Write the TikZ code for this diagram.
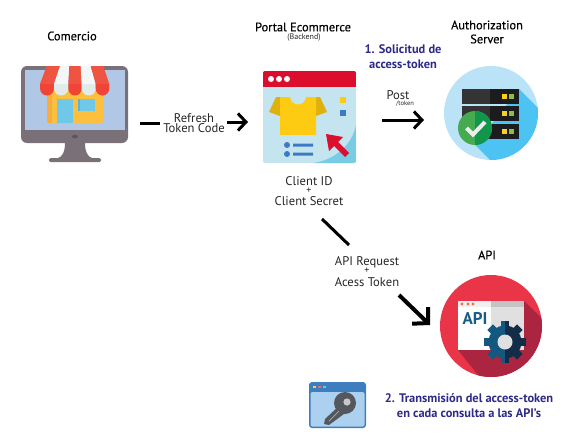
\documentclass[tikz,border=0pt]{standalone}
\usepackage{fontspec}
\setmainfont{PT Sans}
\newfontface\medfont[FakeBold=0.35]{PT Sans}
\usetikzlibrary{arrows.meta}
\definecolor{navy}{HTML}{2E2A87}
\definecolor{redA}{RGB}{239,84,67}
\definecolor{redB}{RGB}{240,68,54}
\definecolor{whtA}{RGB}{243,247,247}
\definecolor{whtB}{RGB}{226,235,235}
\definecolor{gearL}{RGB}{20,88,127}
\definecolor{gearR}{RGB}{19,44,71}
\tikzset{
  lbl/.style={inner sep=0pt,font=\fontsize{12.6}{12.6}\selectfont,text=black!85},
  ttl/.style={inner sep=0pt,font=\fontsize{12.4}{12.4}\selectfont\medfont,text=black},
  note/.style={inner sep=0pt,font=\fontsize{12.4}{12.4}\selectfont\bfseries,text=navy},
  tiny/.style={inner sep=0pt,text=black!85},
  link/.style={line width=3pt,black},
  linkend/.style={line width=3pt,black,-{Straight Barb[length=8pt,width=17pt,line width=3pt]}},
}
\begin{document}
\begin{tikzpicture}[x=1pt,y=-1pt]
\useasboundingbox (0,0) rectangle (570,439);
% ---- Comercio icon
\fill[fill={rgb,255:red,122;green,112;blue,120},rounded corners=6pt] (21,66) rectangle (128,143);
\fill[fill={rgb,255:red,176;green,199;blue,230}] (25,70) rectangle (125,130);
\fill[fill={rgb,255:red,122;green,112;blue,120}] (65,143) .. controls (65,152) and (62,157) .. (58,158) -- (92,158) .. controls (88,157) and (85,152) .. (85,143) -- cycle;
\fill[fill={rgb,255:red,122;green,112;blue,120},rounded corners=1.5pt] (49,158) rectangle (101,162);
\fill[fill={rgb,255:red,92;green,84;blue,92}] (75,136.5) ellipse [x radius=3pt,y radius=1.8pt];
\fill[fill={rgb,255:red,253;green,191;blue,62},rounded corners=2pt] (47,90) rectangle (103,123);
\fill[fill={rgb,255:red,248;green,172;blue,62},rounded corners=2pt] (47,90) rectangle (52,123);
\fill[fill={rgb,255:red,112;green,200;blue,232}] (57,99) rectangle (73,123);
\fill[fill={rgb,255:red,112;green,200;blue,232}] (78,99) rectangle (95,111);
\fill[fill={rgb,255:red,90;green,180;blue,215}] (78,99) rectangle (80,111);
\foreach \ta/\tb/\ba/\bb/\ca/\cb in {
  46.7/60/40/54/redA/redB,
  60/69.3/54/68.3/whtA/whtB,
  69.3/80.7/68.3/81.7/redA/redB,
  80.7/90.7/81.7/95.7/whtA/whtB,
  90.7/103.3/95.7/109.3/redA/redB}{
  \fill[\ca] (\ta,66) -- (\tb,66) -- (\bb,84) -- (\ba,84) -- cycle;
  \fill[\cb] (\ba,84) -- (\bb,84) -- (\bb,88) .. controls (\bb,98) and (\ba,98) .. (\ba,88) -- cycle;
}
% ---- Portal icon
\fill[fill={rgb,255:red,196;green,229;blue,239},rounded corners=2pt] (263,71) rectangle (356,163);
\begin{scope}
\clip[rounded corners=2pt] (263,71) rectangle (356,163);
\fill[fill={rgb,255:red,120;green,204;blue,227}] (356,125) .. controls (352,145) and (335,160) .. (313,163) -- (356,163) -- cycle;
\fill[fill={rgb,255:red,220;green,13;blue,45}] (263,71) rectangle (356,87);
\end{scope}
\foreach \dx in {271,279,287} \fill[white] (\dx,79) circle[radius=3pt];
\fill[fill={rgb,255:red,224;green,176;blue,14}] (280,97) -- (276,97) -- (269,112) -- (280,116) -- cycle;
\fill[fill={rgb,255:red,224;green,176;blue,14}] (316,97) -- (320,97) -- (327,112) -- (316,116) -- cycle;
\fill[fill={rgb,255:red,253;green,203;blue,18}] (280,97) -- (290,97) .. controls (291,107) and (305,107) .. (306,97) -- (316,97) -- (316,135) -- (280,135) -- cycle;
\fill[fill={rgb,255:red,253;green,203;blue,18}] (340,97) rectangle (346,103);
\fill[fill={rgb,255:red,62;green,122;blue,196}] (340,110) rectangle (346,116);
\fill[fill={rgb,255:red,62;green,122;blue,196}] (287,145) circle[radius=3pt] (287,154) circle[radius=3pt];
\fill[fill={rgb,255:red,62;green,122;blue,196}] (293,143.5) rectangle (313,146.5) (293,152.5) rectangle (313,155.5);
\fill[fill={rgb,255:red,220;green,13;blue,45}] (326,134) -- (343,137) -- (338,142) -- (349,153) -- (345,157) -- (334,146) -- (329,151) -- cycle;
% ---- Authorization server icon
\fill[fill={rgb,255:red,186;green,227;blue,247}] (491,113) circle[radius=47pt];
\begin{scope}
\clip (491,113) circle[radius=47pt];
\fill[fill={rgb,255:red,76;green,195;blue,243}] (519,89) -- (560,130) -- (520,180) -- (490,160) -- (475,145) -- cycle;
\end{scope}
\foreach \ry in {89,106,124}{
  \fill[fill={rgb,255:red,28;green,28;blue,30}] (462,\ry) rectangle (519,\ry+14.5);
  \fill[fill={rgb,255:red,52;green,52;blue,54}] (462,\ry) rectangle (490,\ry+14.5);
  \fill[fill={rgb,255:red,250;green,210;blue,30}] (501.5,\ry+4.5) rectangle (506.5,\ry+9.5);
  \fill[fill={rgb,255:red,140;green,190;blue,70}] (509,\ry+4.5) rectangle (514,\ry+9.5);
}
\fill[fill={rgb,255:red,69;green,170;blue,80}] (475,128) circle[radius=17pt];
\begin{scope}
\clip (475,111) rectangle (492,145);
\fill[fill={rgb,255:red,18;green,150;blue,75}] (475,128) circle[radius=17pt];
\end{scope}
\draw[white!93!black,line width=4pt] (466.5,128) -- (473,134.5) -- (485,122);
% ---- API icon
\fill[fill={rgb,255:red,233;green,53;blue,71}] (491,326) circle[radius=51pt];
\begin{scope}
\clip (491,326) circle[radius=51pt];
\fill[fill={rgb,255:red,172;green,37;blue,64}] (524,301) -- (570,345) -- (530,400) -- (490,390) -- (458,350) -- cycle;
\end{scope}
\fill[white] (458,301) rectangle (491,350);
\fill[fill={rgb,255:red,224;green,224;blue,224}] (491,301) rectangle (524,350);
\fill[fill={rgb,255:red,240;green,240;blue,240}] (458,301) rectangle (491,307);
\fill[fill={rgb,255:red,196;green,196;blue,196}] (491,301) rectangle (524,307);
\foreach \dx in {462,468,473} \fill[fill={rgb,255:red,240;green,110;blue,70}] (\dx,304) circle[radius=1.6pt];
\node[inner sep=0pt,font=\fontsize{17}{17}\selectfont\bfseries,text={rgb,255:red,24;green,92;blue,136}] (apitxt) at (475,318) {API};
\foreach \gclr/\gx in {gearL/480,gearR/505}{
\begin{scope}
\clip (\gx,315) rectangle (\gx+25,370);
\fill[\gclr] (505,342) circle[radius=16.5pt];
\foreach \ang in {0,45,...,315}
  \fill[\gclr,rotate around={\ang:(505,342)}] (501,321) rectangle (509,330);
\end{scope}}
\fill[fill={rgb,255:red,224;green,224;blue,224}] (505,342) circle[radius=7.5pt];
% ---- Key icon
\fill[fill={rgb,255:red,62;green,125;blue,190},rounded corners=3pt] (309,382) rectangle (366,428);
\fill[fill={rgb,255:red,172;green,209;blue,240},rounded corners=2pt] (310.5,392) rectangle (364.5,426.5);
\fill[fill={rgb,255:red,240;green,210;blue,90}] (313,386) rectangle (316,387.5);
\fill[fill={rgb,255:red,230;green,110;blue,130}] (318,386) rectangle (321,387.5);
\fill[fill={rgb,255:red,100;green,205;blue,210}] (323,386) rectangle (326,387.5);
\fill[fill={rgb,255:red,84;green,88;blue,94}] (345,403) circle[radius=11pt];
\fill[fill={rgb,255:red,84;green,88;blue,94}] (340,405) -- (348,411) -- (329,425) -- (324,424) -- (325,419) -- cycle;
\fill[fill={rgb,255:red,200;green,200;blue,200}] (347,402) circle[radius=3.6pt];
\draw[draw={rgb,255:red,170;green,170;blue,170},line width=.7pt] (339,411) -- (329,421);
% ---- Labels
\node[ttl] (comercio) at (72,36) {Comercio};
\node[ttl] (portal) at (303,27) {Portal Ecommerce};
\node[tiny,font=\fontsize{8}{8}\selectfont] (backend) at (304,38) {(Backend)};
\node[ttl] (auth1) at (487,25) {Authorization};
\node[ttl] (auth2) at (487,39) {Server};
\node[note] (sol1) at (403,49) {1. Solicitud de};
\node[note] (sol2) at (403,64) {access-token};
\node[lbl] (refresh) at (194,118) {Refresh};
\node[lbl] (tokencode) at (194,128) {Token Code};
\node[lbl] (post) at (398,95) {Post};
\node[tiny,font=\fontsize{6.5}{6.5}\selectfont] (tokenpath) at (405,104) {/token};
\node[lbl] (cid) at (309,181) {Client ID};
\node[tiny,font=\fontsize{10}{10}\selectfont] (plusa) at (309,191) {+};
\node[lbl] (csecret) at (309,201) {Client Secret};
\node[lbl] (apireq) at (367,262) {API Request};
\node[tiny,font=\fontsize{10}{10}\selectfont] (plusb) at (367,271) {+};
\node[lbl] (acess) at (367,282) {Acess Token};
\node[ttl] (api) at (487,255) {API};
\node[note] (tr1) at (469,398) {2. Transmisión del access-token};
\node[note] (tr2) at (469,413) {en cada consulta a las API's};
% ---- Connectors
\coordinate (r1) at (140,123); \coordinate (r2) at (160,123);
\coordinate (r3) at (227,122); \coordinate (r4) at (248,122);
\coordinate (p1) at (382,120); \coordinate (p2) at (424,120);
\coordinate (d1) at (322,219); \coordinate (d2) at (349,245);
\coordinate (d3) at (399,295); \coordinate (d4) at (430,325);
\draw[link] (r1) -- (r2);
\draw[linkend] (r3) -- (r4);
\draw[linkend] (p1) -- (p2);
\draw[link] (d1) -- (d2);
\draw[line width=4pt,-{Straight Barb[length=11pt,width=23pt,line width=4pt]}] (d3) -- (d4);
\end{tikzpicture}
\end{document}
